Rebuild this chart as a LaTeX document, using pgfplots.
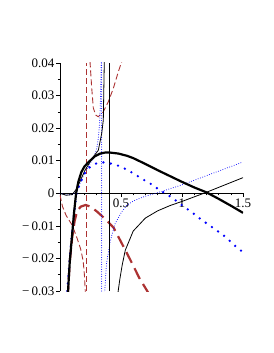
\documentclass[border=0pt]{standalone}
\usepackage{fontspec}
\setmainfont{Liberation Serif}
\usepackage{pgfplots}
\pgfplotsset{compat=1.18}
\definecolor{mbrown}{RGB}{172,50,50}
\begin{document}
\begin{tikzpicture}
\begin{axis}[name=ax, scale only axis,
  width=183pt, height=228pt,
  xmin=0, xmax=1.5, ymin=-0.03, ymax=0.04,
  axis lines=middle, axis line style={-, line width=0.5pt},
  tick align=outside,
  hide obscured y ticks=false,
  xtick={0.5,1,1.5}, xticklabels={0.5,1,1.5},
  minor xtick={0.1,0.2,0.3,0.4,0.6,0.7,0.8,0.9,1.1,1.2,1.3,1.4},
  ytick={-0.03,-0.02,-0.01,0,0.01,0.02,0.03,0.04},
  yticklabels={−\,0.03,−\,0.02,−\,0.01,0,0.01,0.02,0.03,0.04},
  minor ytick={-0.025,-0.015,-0.005,0.005,0.015,0.025,0.035},
  scaled ticks=false,
  major tick length=3.5pt, minor tick length=2pt,
  tick style={black, line width=0.5pt},
  ticklabel style={font=\fontsize{13}{15}\selectfont},
  yticklabel style={inner sep=2pt},
  xticklabel style={inner sep=2pt},
  clip=true,
]
\coordinate (LL) at (rel axis cs:0,0);
\coordinate (UR) at (rel axis cs:1,1);
% thin brown dashed
\addplot[mbrown, line width=0.9pt, dash pattern=on 6pt off 3pt] coordinates {
(0,-0.0005)(0.02,-0.004)(0.05,-0.0068)(0.1,-0.0098)(0.14,-0.0138)(0.17,-0.0172)(0.19,-0.0208)(0.2,-0.025)(0.207,-0.03)(0.212,-0.04)};
\addplot[mbrown, line width=0.9pt, dash pattern=on 6pt off 3pt] coordinates {(0.217,-0.03)(0.217,0.04)};
\addplot[mbrown, line width=0.9pt, dash pattern=on 6pt off 3pt] coordinates {
(0.243,0.046)(0.246,0.0404)(0.26,0.0323)(0.273,0.0262)(0.293,0.024)(0.314,0.0235)(0.355,0.025)(0.396,0.0281)(0.437,0.0322)(0.478,0.0373)(0.506,0.0404)};
% thick brown long dashed
\addplot[mbrown, line width=2.2pt, dash pattern=on 12pt off 6pt] coordinates {
(0.062,-0.032)(0.066,-0.03)(0.08,-0.021)(0.1,-0.0135)(0.12,-0.0085)(0.14,-0.0055)(0.17,-0.0041)(0.21,-0.0036)(0.25,-0.0041)(0.3,-0.0055)(0.35,-0.0072)(0.4,-0.009)(0.44,-0.0106)(0.49,-0.0142)(0.55,-0.0185)(0.6,-0.0222)(0.65,-0.026)(0.715,-0.03)(0.73,-0.031)};
% thin blue dotted
\addplot[blue, line width=1pt, line cap=round, dash pattern=on 0pt off 2.4pt] coordinates {
(0,0)(0.05,-0.0005)(0.1,-0.0004)(0.13,0.0004)(0.17,0.0035)(0.21,0.0068)(0.25,0.0093)(0.28,0.0113)(0.3,0.0135)(0.315,0.017)(0.325,0.022)(0.333,0.03)(0.338,0.04)(0.34,0.05)};
\addplot[blue, line width=1pt, line cap=round, dash pattern=on 0pt off 2.4pt] coordinates {(0.341,-0.03)(0.341,0.04)};
\addplot[blue, line width=1pt, line cap=round, dash pattern=on 0pt off 2.4pt] coordinates {
(0.36,-0.04)(0.367,-0.03)(0.38,-0.022)(0.41,-0.015)(0.45,-0.0095)(0.5,-0.006)(0.547,-0.0037)(0.6,-0.0024)(0.683,-0.0011)(0.82,0.0004)(1.0,0.0026)(1.2,0.0054)(1.35,0.0075)(1.5,0.0096)};
% thin black
\addplot[black, line width=0.8pt] coordinates {
(0,0)(0.05,-0.0006)(0.1,-0.0004)(0.137,0.0014)(0.205,0.0071)(0.273,0.0112)(0.314,0.0132)(0.342,0.0184)(0.355,0.0225)(0.363,0.0404)(0.366,0.05)};
\addplot[black, line width=0.8pt] coordinates {(0.405,-0.03)(0.405,0.04)};
\addplot[black, line width=0.8pt] coordinates {
(0.47,-0.033)(0.477,-0.03)(0.49,-0.0265)(0.51,-0.022)(0.535,-0.0175)(0.6,-0.0116)(0.7,-0.0076)(0.8,-0.0054)(0.9,-0.0038)(1.0,-0.0025)(1.1,-0.0011)(1.2,0.0003)(1.3,0.0018)(1.4,0.0033)(1.5,0.0048)};
% thick blue dots
\addplot[blue, line width=2.6pt, line cap=round, dash pattern=on 0pt off 7.5pt] coordinates {
(0.06,-0.03)(0.08,-0.02)(0.1,-0.0118)(0.12,-0.005)(0.135,0)(0.164,0.003)(0.2,0.006)(0.246,0.0081)(0.3,0.0092)(0.35,0.0095)(0.4,0.0093)(0.47,0.0086)(0.547,0.0073)(0.615,0.0058)(0.683,0.0042)(0.752,0.0027)(0.82,0.0009)(0.888,-0.0006)(0.956,-0.0024)(1.01,-0.004)(1.08,-0.0058)(1.148,-0.0078)(1.25,-0.0105)(1.35,-0.0132)(1.46,-0.017)(1.5,-0.018)};
% thick black
\addplot[black, line width=2.2pt] coordinates {
(0.062,-0.032)(0.066,-0.03)(0.08,-0.021)(0.1,-0.0125)(0.115,-0.006)(0.132,0)(0.15,0.0035)(0.175,0.0065)(0.2,0.0082)(0.232,0.0095)(0.287,0.0114)(0.33,0.0122)(0.369,0.0125)(0.41,0.0125)(0.478,0.0122)(0.55,0.0115)(0.6,0.0108)(0.7,0.009)(0.8,0.0071)(0.9,0.0053)(1.0,0.0035)(1.1,0.0018)(1.2,0.0003)(1.3,-0.0017)(1.4,-0.0038)(1.5,-0.006)};
\end{axis}
\path[use as bounding box] ([xshift=-60pt,yshift=-62pt]LL) rectangle ([xshift=30pt,yshift=63pt]UR);
\end{tikzpicture}
\end{document}
